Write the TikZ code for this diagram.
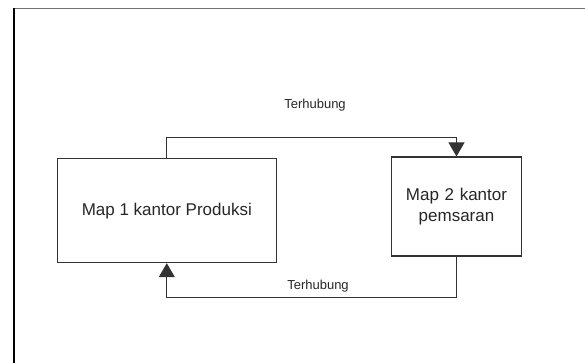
\documentclass[tikz,border=0pt]{standalone}
\usepackage{fontspec}
\setmainfont{Liberation Sans}
\usetikzlibrary{arrows.meta}

\begin{document}
\begin{tikzpicture}[x=1pt,y=-1pt,>={Triangle[width=16pt,length=14pt]},
		box/.style={draw=black!80,line width=1.1pt,rectangle,align=center,
			font=\fontsize{17}{20.3}\selectfont,text=black!85},
		lbl/.style={font=\fontsize{13}{15}\selectfont,text=black!85},
		link/.style={draw=black!80,line width=1.1pt}]
		\useasboundingbox (0,0) rectangle (585,363);
		% frame
		\draw[black!55,line width=1pt] (14,8.3) -- (585,8.3);
		\draw[black,line width=1.6pt] (14,8.3) -- (14,363);
		
		\node[box,minimum width=219.5pt,minimum height=103.7pt] (Prod) at (166.8,210.8) {Map 1 kantor Produksi};
		\node[box,minimum width=130.6pt,minimum height=99pt,text width=118pt] (Pem) at (456.5,206.5) {Map 2 kantor\\pemsaran};
		\node[lbl] (T1) at (315,105) {Terhubung};
		\node[lbl] (T2) at (318,285.7) {Terhubung};
		
		\draw[link,->] (Prod.north) -- ++(0,-21.3) -| (Pem.north);
		\draw[link,->] (Pem.south) -- ++(0,40.7) -| (Prod.south);
	\end{tikzpicture}
\end{document}
